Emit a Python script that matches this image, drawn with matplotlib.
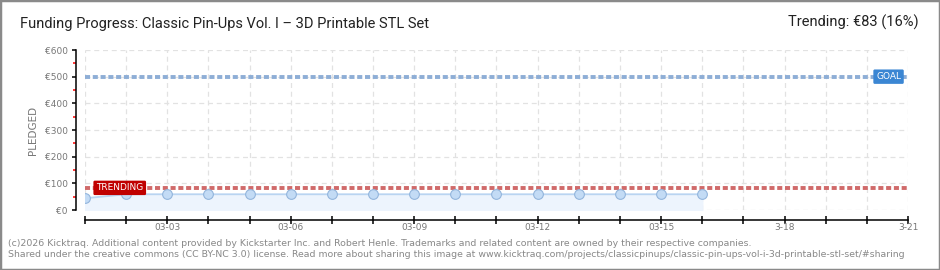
import numpy as np
import matplotlib
matplotlib.use("Agg")
import matplotlib.pyplot as plt
import pandas as pd
from matplotlib.patches import Rectangle

# chart data
days = pd.date_range("2026-03-01", periods=16, freq="D")
pledged = [44, 59, 59, 59, 59, 59, 59, 59, 59, 59, 59, 59, 59, 59, 59, 59]
goal = 500
trending = 83
x_start = pd.Timestamp("2026-03-01")
x_end = pd.Timestamp("2026-03-21")
tick_days = pd.date_range(x_start, x_end, freq="D")
label_days = pd.date_range("2026-03-03", x_end, freq="3D")
label_text = ["03-03", "03-06", "03-09", "03-12", "03-15", "3-18", "3-21"]
y_major = [0, 100, 200, 300, 400, 500, 600]
y_labels = ["€0", "€100", "€200", "€300", "€400", "€500", "€600"]
y_minor = [50, 150, 250, 350, 450, 550]

title = "Funding Progress: Classic Pin-Ups Vol. I – 3D Printable STL Set"
trend_text = "Trending: €83 (16%)"
footer = ("(c)2026 Kicktraq. Additional content provided by Kickstarter Inc. and Robert Henle. "
          "Trademarks and related content are owned by their respective companies.\n"
          "Shared under the creative commons (CC BY-NC 3.0) license. Read more about sharing this image at "
          "www.kicktraq.com/projects/classicpinups/classic-pin-ups-vol-i-3d-printable-stl-set/#sharing")

W, H = 940, 270
PX = 72 / 100  # points per pixel at dpi 100
fig = plt.figure(figsize=(W / 100, H / 100), dpi=100)
fig.patches.append(Rectangle((0, 0), 1, 1, transform=fig.transFigure,
                             fill=False, edgecolor="#8a8a8a", linewidth=2.5))

ax = fig.add_axes([85 / W, 1 - 210 / H, 823 / W, 160 / H])
ax.set_xlim(x_start, x_end)
ax.set_ylim(0, 600)

# grid
ax.set_xticks(tick_days)
ax.set_yticks(y_major)
ax.grid(True, color="#e2e2e2", linestyle=(0, (4, 3)), linewidth=0.9)
ax.set_axisbelow(True)

# data
ax.fill_between(days, pledged, 0, color="#edf4fd", zorder=1)
ax.plot(days, pledged, color="#b9d4f1", linewidth=1.3, zorder=2)
ax.plot(days, pledged, "o", markersize=7, markerfacecolor="#c3dbf5",
        markeredgecolor="#93b5dc", markeredgewidth=0.8, zorder=3)

ax.axhline(goal, color="#8eaed6", linewidth=2.8, linestyle=(0, (1.3, 0.7)), zorder=2)
ax.axhline(trending, color="#d06a6a", linewidth=2.8, linestyle=(0, (1.3, 0.7)), zorder=2)

# labels on the lines
ax.annotate("GOAL", xy=(x_end, goal), xytext=(-5, 0), textcoords="offset points",
            ha="right", va="center", fontsize=6.5, color="white", family="DejaVu Sans",
            bbox=dict(boxstyle="round,pad=0.3,rounding_size=0.15", facecolor="#3b86d3",
                      edgecolor="none"), zorder=5)
ax.annotate("TRENDING", xy=(x_start, trending), xytext=(8, 0), textcoords="offset points",
            ha="left", va="center", fontsize=6.5, color="white", family="DejaVu Sans",
            bbox=dict(boxstyle="round,pad=0.3,rounding_size=0.15", facecolor="#c00000",
                      edgecolor="none"), zorder=5)

# spines and ticks
for s in ("top", "right"):
    ax.spines[s].set_visible(False)
ax.spines["left"].set_position(("outward", 9 * PX))
ax.spines["bottom"].set_position(("outward", 10 * PX))
ax.spines["left"].set_linewidth(1.1)
ax.spines["bottom"].set_linewidth(1.1)

ax.set_xticklabels([])
ax.tick_params(axis="x", which="major", direction="inout", length=8 * PX, width=1.1, color="black")
ax.set_yticklabels(y_labels)
ax.tick_params(axis="y", which="major", direction="out", length=4 * PX, width=1.1,
               color="black", labelsize=6.5, labelcolor="#777777", pad=3)
ax.set_yticks(y_minor, minor=True)
ax.tick_params(axis="y", which="minor", direction="out", length=3 * PX, width=1.1, color="#ff0000")

for d, t in zip(label_days, label_text):
    ax.annotate(t, xy=(d, 0), xycoords=("data", "axes fraction"), xytext=(0, -18 * PX),
                textcoords="offset points", ha="center", va="center",
                fontsize=6.5, color="#777777")

ax.set_ylabel("PLEDGED", fontsize=7.5, color="#777777", labelpad=5)

fig.text(20 / W, 1 - 24 / H, title, fontsize=10.5, family=["Roboto", "DejaVu Sans"],
         color="#222222", ha="left", va="center")
fig.text(919 / W, 1 - 22 / H, trend_text, fontsize=10.5,
         family=["Roboto", "DejaVu Sans"], color="#222222", ha="right", va="center")
fig.text(8 / W, 1 - 249 / H, footer, fontsize=6.75, color="#888888", ha="left", va="center",
         linespacing=1.3)

fig.savefig("out.png", dpi=100)
